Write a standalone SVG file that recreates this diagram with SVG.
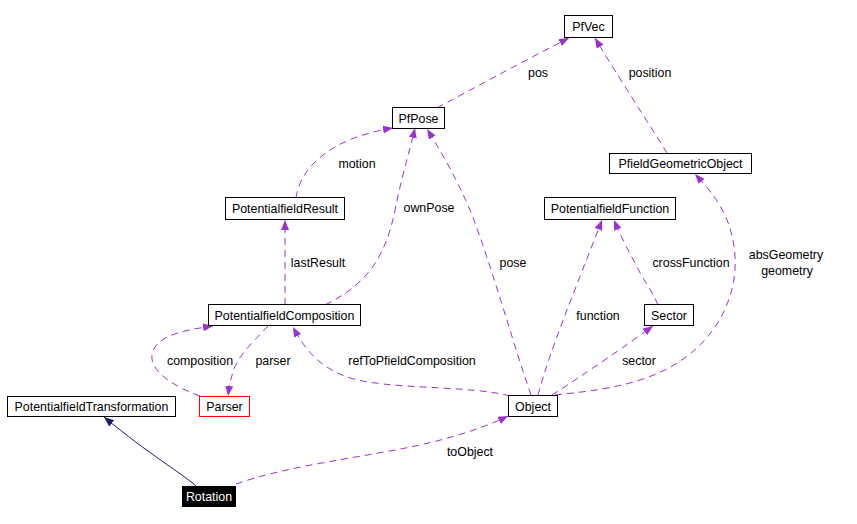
<svg xmlns="http://www.w3.org/2000/svg" width="857" height="524" viewBox="0 0 857 524">
<style>
text{font-family:"Liberation Sans",Arial,sans-serif;font-size:12.4px;fill:#000;text-anchor:middle}
.box{fill:#fff;stroke:#000;stroke-width:1}
.e{fill:none;stroke:#9a32cd;stroke-width:1;stroke-dasharray:7,5}
.inh{fill:none;stroke:#191970;stroke-width:1}
</style>
<defs>
<marker id="ap" viewBox="0 0 10 8" refX="10" refY="4" markerWidth="10" markerHeight="8" markerUnits="userSpaceOnUse" orient="auto"><path d="M0,0 L10,4 L0,8 z" fill="#9a32cd"/></marker>
<marker id="an" viewBox="0 0 10 8" refX="10" refY="4" markerWidth="10" markerHeight="8" markerUnits="userSpaceOnUse" orient="auto"><path d="M0,0 L10,4 L0,8 z" fill="#191970"/></marker>
</defs>
<rect width="857" height="524" fill="#fff"/>
<g id="connectors">
<path class="e" marker-end="url(#ap)" d="M437,108 C470,90 520,63 569,38"/>
<path class="e" marker-end="url(#ap)" d="M667,153 C650,125 620,80 595,38"/>
<path class="e" marker-end="url(#ap)" d="M296,198 C300,168 330,138 393,128"/>
<path class="e" marker-end="url(#ap)" d="M325,305 C365,285 385,260 395,210 C402,175 410,150 415,128"/>
<path class="e" marker-end="url(#ap)" d="M531,395 C515,350 490,260 470,210 C455,175 440,150 427,129"/>
<path class="e" marker-end="url(#ap)" d="M285,305 L285,220"/>
<path class="e" marker-end="url(#ap)" d="M538,395 C550,350 575,290 602,220"/>
<path class="e" marker-end="url(#ap)" d="M658,305 C652,290 643,280 636,265 C628,250 620,235 614,220"/>
<path class="e" marker-end="url(#ap)" d="M555,395 C600,390 660,385 700,345 C735,310 745,260 725,215 C715,195 705,185 695,174"/>
<path class="e" marker-end="url(#ap)" d="M552,395 C580,377 620,350 653,326"/>
<path class="e" marker-end="url(#ap)" d="M510,396 C470,385 390,390 350,378 C320,368 305,350 293,327"/>
<path class="e" marker-end="url(#ap)" d="M200,396 C170,385 150,370 152,355 C155,335 185,330 213,326"/>
<path class="e" marker-end="url(#ap)" d="M268,326 C255,340 238,355 233,372 C230,382 229,388 228,396"/>
<path class="inh" marker-end="url(#an)" d="M196,486 C180,472 150,455 104,417"/>
<path class="e" marker-end="url(#ap)" d="M236,484 C290,465 360,458 420,445 C460,436 490,425 508,416"/>
<text x="538" y="77">pos</text>
<text x="650" y="77">position</text>
<text x="357" y="168">motion</text>
<text x="429" y="212">ownPose</text>
<text x="318" y="267">lastResult</text>
<text x="513" y="267">pose</text>
<text x="691" y="267">crossFunction</text>
<text x="786" y="259">absGeometry</text>
<text x="787" y="275">geometry</text>
<text x="598" y="320">function</text>
<text x="200" y="365">composition</text>
<text x="273" y="365">parser</text>
<text x="412" y="365">refToPfieldComposition</text>
<text x="639" y="365">sector</text>
<text x="470" y="456">toObject</text>
</g>
<g id="PfVec"><rect class="box" x="564.5" y="15.5" width="48" height="22"/><text x="588.5" y="31">PfVec</text></g>
<g id="PfPose"><rect class="box" x="392.5" y="107.5" width="52" height="21"/><text x="418.5" y="122.5">PfPose</text></g>
<g id="PfieldGeometricObject"><rect class="box" x="609.5" y="153.5" width="142" height="20"/><text x="680.5" y="168">PfieldGeometricObject</text></g>
<g id="PotentialfieldResult"><rect class="box" x="225.5" y="197.5" width="119" height="22"/><text x="285" y="213">PotentialfieldResult</text></g>
<g id="PotentialfieldFunction"><rect class="box" x="544.5" y="197.5" width="131" height="22"/><text x="610" y="213">PotentialfieldFunction</text></g>
<g id="PotentialfieldComposition"><rect class="box" x="208.5" y="304.5" width="152" height="21"/><text x="284.5" y="319.5">PotentialfieldComposition</text></g>
<g id="Sector"><rect class="box" x="644.5" y="304.5" width="49" height="21"/><text x="669" y="319.5">Sector</text></g>
<g id="PotentialfieldTransformation"><rect class="box" x="7.5" y="396.5" width="168" height="20"/><text x="91.5" y="411">PotentialfieldTransformation</text></g>
<g id="Parser"><rect class="box" x="199.5" y="396.5" width="50" height="20" style="stroke:#ff0000"/><text x="224.5" y="411">Parser</text></g>
<g id="Object"><rect class="box" x="508.5" y="395.5" width="49" height="21"/><text x="533" y="410.5">Object</text></g>
<g id="Rotation"><rect x="182" y="486" width="54" height="21" fill="#000"/><text x="209" y="501" style="fill:#fff">Rotation</text></g>
</svg>
